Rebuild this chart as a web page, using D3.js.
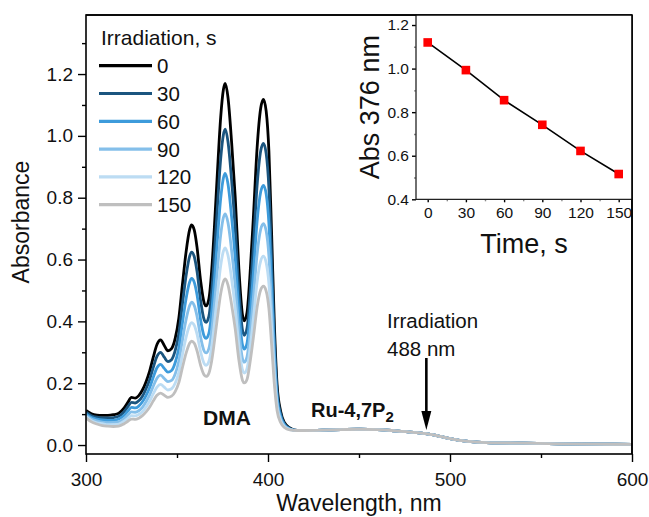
<!DOCTYPE html>
<html>
<head>
<meta charset="utf-8">
<script src="https://cdn.jsdelivr.net/npm/d3@7"></script>
<style>
  html, body { margin: 0; padding: 0; background: #fff; }
  svg { display: block; font-family: "Liberation Sans", Arial, sans-serif; }
</style>
</head>
<body>
<svg id="chart" width="649" height="517"></svg>
<script>
// ---------------- DATA ----------------
const wavelengths = [300,303,306,309,312,315,318,321,323,325,327,329,331,333,335,337,339,341,343,345,347,349,
  351,353,355,357,358,359.5,361,363,365,366,367.5,369,370.5,372,374,375.5,376.5,378,380,382,
  384,386,387,388.5,390,392,394,396,397.5,399,400.5,402,403.5,405,407,409,412,416,
  420,430,440,450,460,470,480,490,500,510,520,540,560,580,600];

const abs0 = [0.112,0.101,0.097,0.096,0.096,0.098,0.103,
  0.120,0.138,0.154,0.152,0.160,0.178,0.205,0.240,0.285,0.325,0.340,0.322,0.305,0.312,0.345,
  0.410,0.520,0.625,0.698,0.712,0.695,0.640,0.530,0.458,0.450,0.472,0.560,0.700,0.860,1.060,1.150,1.170,1.125,0.980,0.800,
  0.570,0.420,0.402,0.430,0.540,0.740,0.960,1.090,1.118,1.080,0.950,0.680,0.390,0.195,0.108,0.073,0.055,0.047,
  0.047,0.048,0.050,0.051,0.050,0.046,0.041,0.034,0.021,0.012,0.008,0.006,0.004,0.003,0.002];
const abs30 = [0.106,0.095,0.090,0.088,0.088,0.089,0.093,
  0.108,0.124,0.138,0.136,0.143,0.158,0.182,0.212,0.252,0.287,0.300,0.284,0.270,0.276,0.305,
  0.361,0.457,0.548,0.612,0.624,0.609,0.562,0.466,0.404,0.397,0.416,0.492,0.614,0.752,0.926,1.004,1.022,0.982,0.857,0.700,
  0.501,0.371,0.355,0.379,0.475,0.648,0.839,0.952,0.976,0.943,0.831,0.596,0.345,0.175,0.100,0.069,0.054,0.047,
  0.047,0.048,0.050,0.051,0.050,0.046,0.041,0.034,0.021,0.012,0.008,0.006,0.004,0.003,0.002];
const abs60 = [0.101,0.089,0.084,0.081,0.080,0.080,0.084,
  0.096,0.110,0.122,0.120,0.126,0.140,0.160,0.186,0.220,0.250,0.261,0.248,0.236,0.241,0.266,
  0.314,0.396,0.474,0.528,0.539,0.526,0.486,0.404,0.351,0.345,0.361,0.427,0.530,0.649,0.797,0.864,0.879,0.845,0.738,0.605,
  0.434,0.323,0.310,0.330,0.412,0.560,0.723,0.819,0.840,0.812,0.716,0.516,0.301,0.156,0.091,0.066,0.052,0.047,
  0.047,0.048,0.050,0.051,0.050,0.046,0.041,0.034,0.021,0.012,0.008,0.006,0.004,0.003,0.002];
const abs90 = [0.096,0.084,0.078,0.074,0.072,0.073,0.075,
  0.086,0.097,0.107,0.106,0.111,0.122,0.140,0.162,0.191,0.216,0.226,0.215,0.205,0.209,0.230,
  0.271,0.340,0.406,0.452,0.462,0.451,0.417,0.348,0.303,0.298,0.312,0.367,0.454,0.554,0.679,0.736,0.748,0.720,0.629,0.517,
  0.373,0.279,0.268,0.286,0.354,0.479,0.617,0.698,0.716,0.692,0.611,0.442,0.261,0.139,0.084,0.062,0.051,0.047,
  0.047,0.048,0.050,0.051,0.050,0.046,0.041,0.034,0.021,0.012,0.008,0.006,0.004,0.003,0.002];
const abs120 = [0.092,0.079,0.072,0.069,0.066,0.066,0.068,
  0.077,0.086,0.095,0.094,0.099,0.108,0.123,0.142,0.166,0.187,0.196,0.187,0.178,0.182,0.200,
  0.235,0.293,0.349,0.388,0.396,0.387,0.359,0.301,0.263,0.258,0.270,0.316,0.390,0.475,0.580,0.627,0.638,0.614,0.538,0.443,
  0.322,0.243,0.233,0.248,0.306,0.411,0.527,0.596,0.611,0.590,0.522,0.380,0.227,0.124,0.078,0.059,0.050,0.047,
  0.047,0.048,0.050,0.051,0.050,0.046,0.041,0.034,0.021,0.012,0.008,0.006,0.004,0.003,0.002];
const abs150 = [0.088,0.075,0.068,0.063,0.061,0.060,0.061,
  0.069,0.077,0.084,0.083,0.087,0.095,0.107,0.123,0.143,0.161,0.168,0.161,0.154,0.158,0.173,
  0.202,0.251,0.297,0.330,0.336,0.329,0.305,0.257,0.226,0.222,0.232,0.270,0.332,0.402,0.489,0.528,0.537,0.518,0.454,0.375,
  0.275,0.209,0.201,0.213,0.262,0.349,0.445,0.502,0.514,0.498,0.441,0.323,0.196,0.111,0.072,0.057,0.049,0.047,
  0.047,0.048,0.050,0.051,0.050,0.046,0.041,0.034,0.021,0.012,0.008,0.006,0.004,0.003,0.002];

const seriesNames = ["0", "30", "60", "90", "120", "150"];
const seriesValues = [abs0, abs30, abs60, abs90, abs120, abs150];
const seriesColors = ["#000000", "#1b557f", "#3d9bdb", "#84bfea", "#bcdcf3", "#bfbfbf"];

const xTicks = [300, 400, 500, 600];
const xMinor = [350, 450, 550];
const yTicks = [0, 0.2, 0.4, 0.6, 0.8, 1.0, 1.2];
const yMinor = [0.1, 0.3, 0.5, 0.7, 0.9, 1.1, 1.3];

// inset
const insetTimes = [0, 30, 60, 90, 120, 150];
const insetAbs = [1.120, 0.993, 0.855, 0.742, 0.622, 0.516];
const insetXTicks = [0, 30, 60, 90, 120, 150];
const insetXMinor = [15, 45, 75, 105, 135];
const insetYTicks = [0.4, 0.6, 0.8, 1.0, 1.2];
const insetYMinor = [0.5, 0.7, 0.9, 1.1];

// ---------------- DRAW ----------------
const svg = d3.select("#chart");
const L = 86, R = 632, T = 15, B = 454;
const x = d3.scaleLinear().domain([300, 600]).range([L, R]);
const y = d3.scaleLinear().domain([-0.029, 1.391]).range([B, T]);

svg.append("defs").append("clipPath").attr("id", "clip")
  .append("rect").attr("x", L).attr("y", T).attr("width", R - L).attr("height", B - T);

// spectra
const line = d3.line().x(d => x(d[0])).y(d => y(d[1])).curve(d3.curveMonotoneX);
const gLines = svg.append("g").attr("clip-path", "url(#clip)");
seriesValues.forEach((vals, i) => {
  const pts = wavelengths.map((w, j) => [w, vals[j]]);
  gLines.append("path").datum(pts)
    .attr("d", line).attr("fill", "none")
    .attr("stroke", seriesColors[i]).attr("stroke-width", 2.8)
    .attr("stroke-linejoin", "round");
});

// axes
function styleAxis(g, fs) {
  g.select(".domain").remove();
  g.selectAll(".tick line").attr("stroke", "#000").attr("stroke-width", 1.4);
  g.selectAll(".tick text").attr("fill", "#111").style("font-size", fs + "px")
    .style("font-family", '"Liberation Sans", Arial, sans-serif');
}
svg.append("g").attr("transform", `translate(0,${B})`)
  .call(d3.axisBottom(x).tickValues(xTicks).tickSize(8).tickPadding(11).tickFormat(d3.format("d")))
  .call(g => styleAxis(g, 19));
svg.append("g").attr("transform", `translate(0,${B})`)
  .call(d3.axisBottom(x).tickValues(xMinor).tickSize(4).tickFormat(""))
  .call(g => styleAxis(g, 19));
svg.append("g").attr("transform", `translate(${L},0)`)
  .call(d3.axisLeft(y).tickValues(yTicks).tickSize(8).tickPadding(5).tickFormat(d3.format(".1f")))
  .call(g => styleAxis(g, 19));
svg.append("g").attr("transform", `translate(${L},0)`)
  .call(d3.axisLeft(y).tickValues(yMinor).tickSize(4).tickFormat(""))
  .call(g => styleAxis(g, 19));

svg.append("rect").attr("x", L).attr("y", T).attr("width", R - L).attr("height", B - T)
  .attr("fill", "none").attr("stroke", "#000").attr("stroke-width", 1.6);

// axis titles
svg.append("text").attr("x", (L + R) / 2).attr("y", 511).attr("text-anchor", "middle")
  .style("font-size", "23px").attr("fill", "#111").text("Wavelength, nm");
svg.append("text").attr("transform", "translate(29,222) rotate(-90)").attr("text-anchor", "middle")
  .style("font-size", "23px").attr("fill", "#111").text("Absorbance");

// legend
svg.append("text").attr("x", 101).attr("y", 45).style("font-size", "21px").attr("fill", "#111")
  .text("Irradiation, s");
seriesNames.forEach((name, i) => {
  const ly = 65.7 + i * 27.8;
  svg.append("line").attr("x1", 99).attr("x2", 152).attr("y1", ly).attr("y2", ly)
    .attr("stroke", seriesColors[i]).attr("stroke-width", 3.2);
  svg.append("text").attr("x", 157).attr("y", ly + 7.5).style("font-size", "20.5px").attr("fill", "#111")
    .text(name);
});

// annotations
svg.append("text").attr("x", 203).attr("y", 425).style("font-size", "21px").style("font-weight", "bold")
  .attr("fill", "#111").text("DMA");
const ru = svg.append("text").attr("x", 311).attr("y", 417).style("font-size", "20px").style("font-weight", "bold")
  .attr("fill", "#111");
ru.append("tspan").text("Ru-4,7P");
ru.append("tspan").attr("dy", 5).style("font-size", "15px").text("2");

svg.append("text").attr("x", 387).attr("y", 328).style("font-size", "20.5px").attr("fill", "#111").text("Irradiation");
svg.append("text").attr("x", 387).attr("y", 355.5).style("font-size", "20.5px").attr("fill", "#111").text("488 nm");
const ax = x(487);
svg.append("line").attr("x1", ax).attr("x2", ax).attr("y1", 358).attr("y2", 414)
  .attr("stroke", "#000").attr("stroke-width", 2.6);
svg.append("path").attr("d", `M${ax - 5},${411} L${ax + 5},${411} L${ax},${430} Z`).attr("fill", "#000");

// ---------------- INSET ----------------
const iL = 416, iR = 632, iT = 15, iB = 199.3;
const xi = d3.scaleLinear().domain([-9.19, 160.45]).range([iL, iR]);
const yi = d3.scaleLinear().domain([0.4, 1.246]).range([iB, iT]);

svg.append("rect").attr("x", iL).attr("y", iT).attr("width", iR - iL).attr("height", iB - iT)
  .attr("fill", "#fff").attr("stroke", "none");

svg.append("g").attr("transform", `translate(0,${iB})`)
  .call(d3.axisBottom(xi).tickValues(insetXTicks).tickSize(3).tickPadding(5).tickFormat(d3.format("d")))
  .call(g => styleAxis(g, 15.5));
svg.append("g").attr("transform", `translate(0,${iB})`)
  .call(d3.axisBottom(xi).tickValues(insetXMinor).tickSize(2).tickFormat(""))
  .call(g => { styleAxis(g, 15.5); g.selectAll(".tick line").attr("stroke", "#888"); });
svg.append("g").attr("transform", `translate(${iL},0)`)
  .call(d3.axisLeft(yi).tickValues(insetYTicks).tickSize(4).tickPadding(3).tickFormat(d3.format(".1f")))
  .call(g => styleAxis(g, 15.5));
svg.append("g").attr("transform", `translate(${iL},0)`)
  .call(d3.axisLeft(yi).tickValues(insetYMinor).tickSize(2).tickFormat(""))
  .call(g => { styleAxis(g, 15.5); g.selectAll(".tick line").attr("stroke", "#888"); });

svg.append("line").attr("x1", iL).attr("x2", iL).attr("y1", iT).attr("y2", iB)
  .attr("stroke", "#222").attr("stroke-width", 1.3);
svg.append("line").attr("x1", iL).attr("x2", iR).attr("y1", iB).attr("y2", iB)
  .attr("stroke", "#222").attr("stroke-width", 1.3);
// redraw main frame top/right over inset background
svg.append("line").attr("x1", L).attr("x2", R).attr("y1", T).attr("y2", T).attr("stroke", "#000").attr("stroke-width", 1.6);
svg.append("line").attr("x1", R).attr("x2", R).attr("y1", T).attr("y2", B).attr("stroke", "#000").attr("stroke-width", 1.6);

const insetPts = insetTimes.map((t, i) => [t, insetAbs[i]]);
svg.append("path").datum(insetPts)
  .attr("d", d3.line().x(d => xi(d[0])).y(d => yi(d[1])))
  .attr("fill", "none").attr("stroke", "#000").attr("stroke-width", 1.6);
svg.selectAll(".sq").data(insetPts).enter().append("rect")
  .attr("x", d => xi(d[0]) - 4.3).attr("y", d => yi(d[1]) - 4.3)
  .attr("width", 8.6).attr("height", 8.6).attr("fill", "#ff0000");

svg.append("text").attr("x", (iL + iR) / 2).attr("y", 253).attr("text-anchor", "middle")
  .style("font-size", "27px").attr("fill", "#111").text("Time, s");
svg.append("text").attr("transform", `translate(379,${(iT + iB) / 2}) rotate(-90)`).attr("text-anchor", "middle")
  .style("font-size", "27px").attr("fill", "#111").text("Abs 376 nm");
</script>
</body>
</html>
